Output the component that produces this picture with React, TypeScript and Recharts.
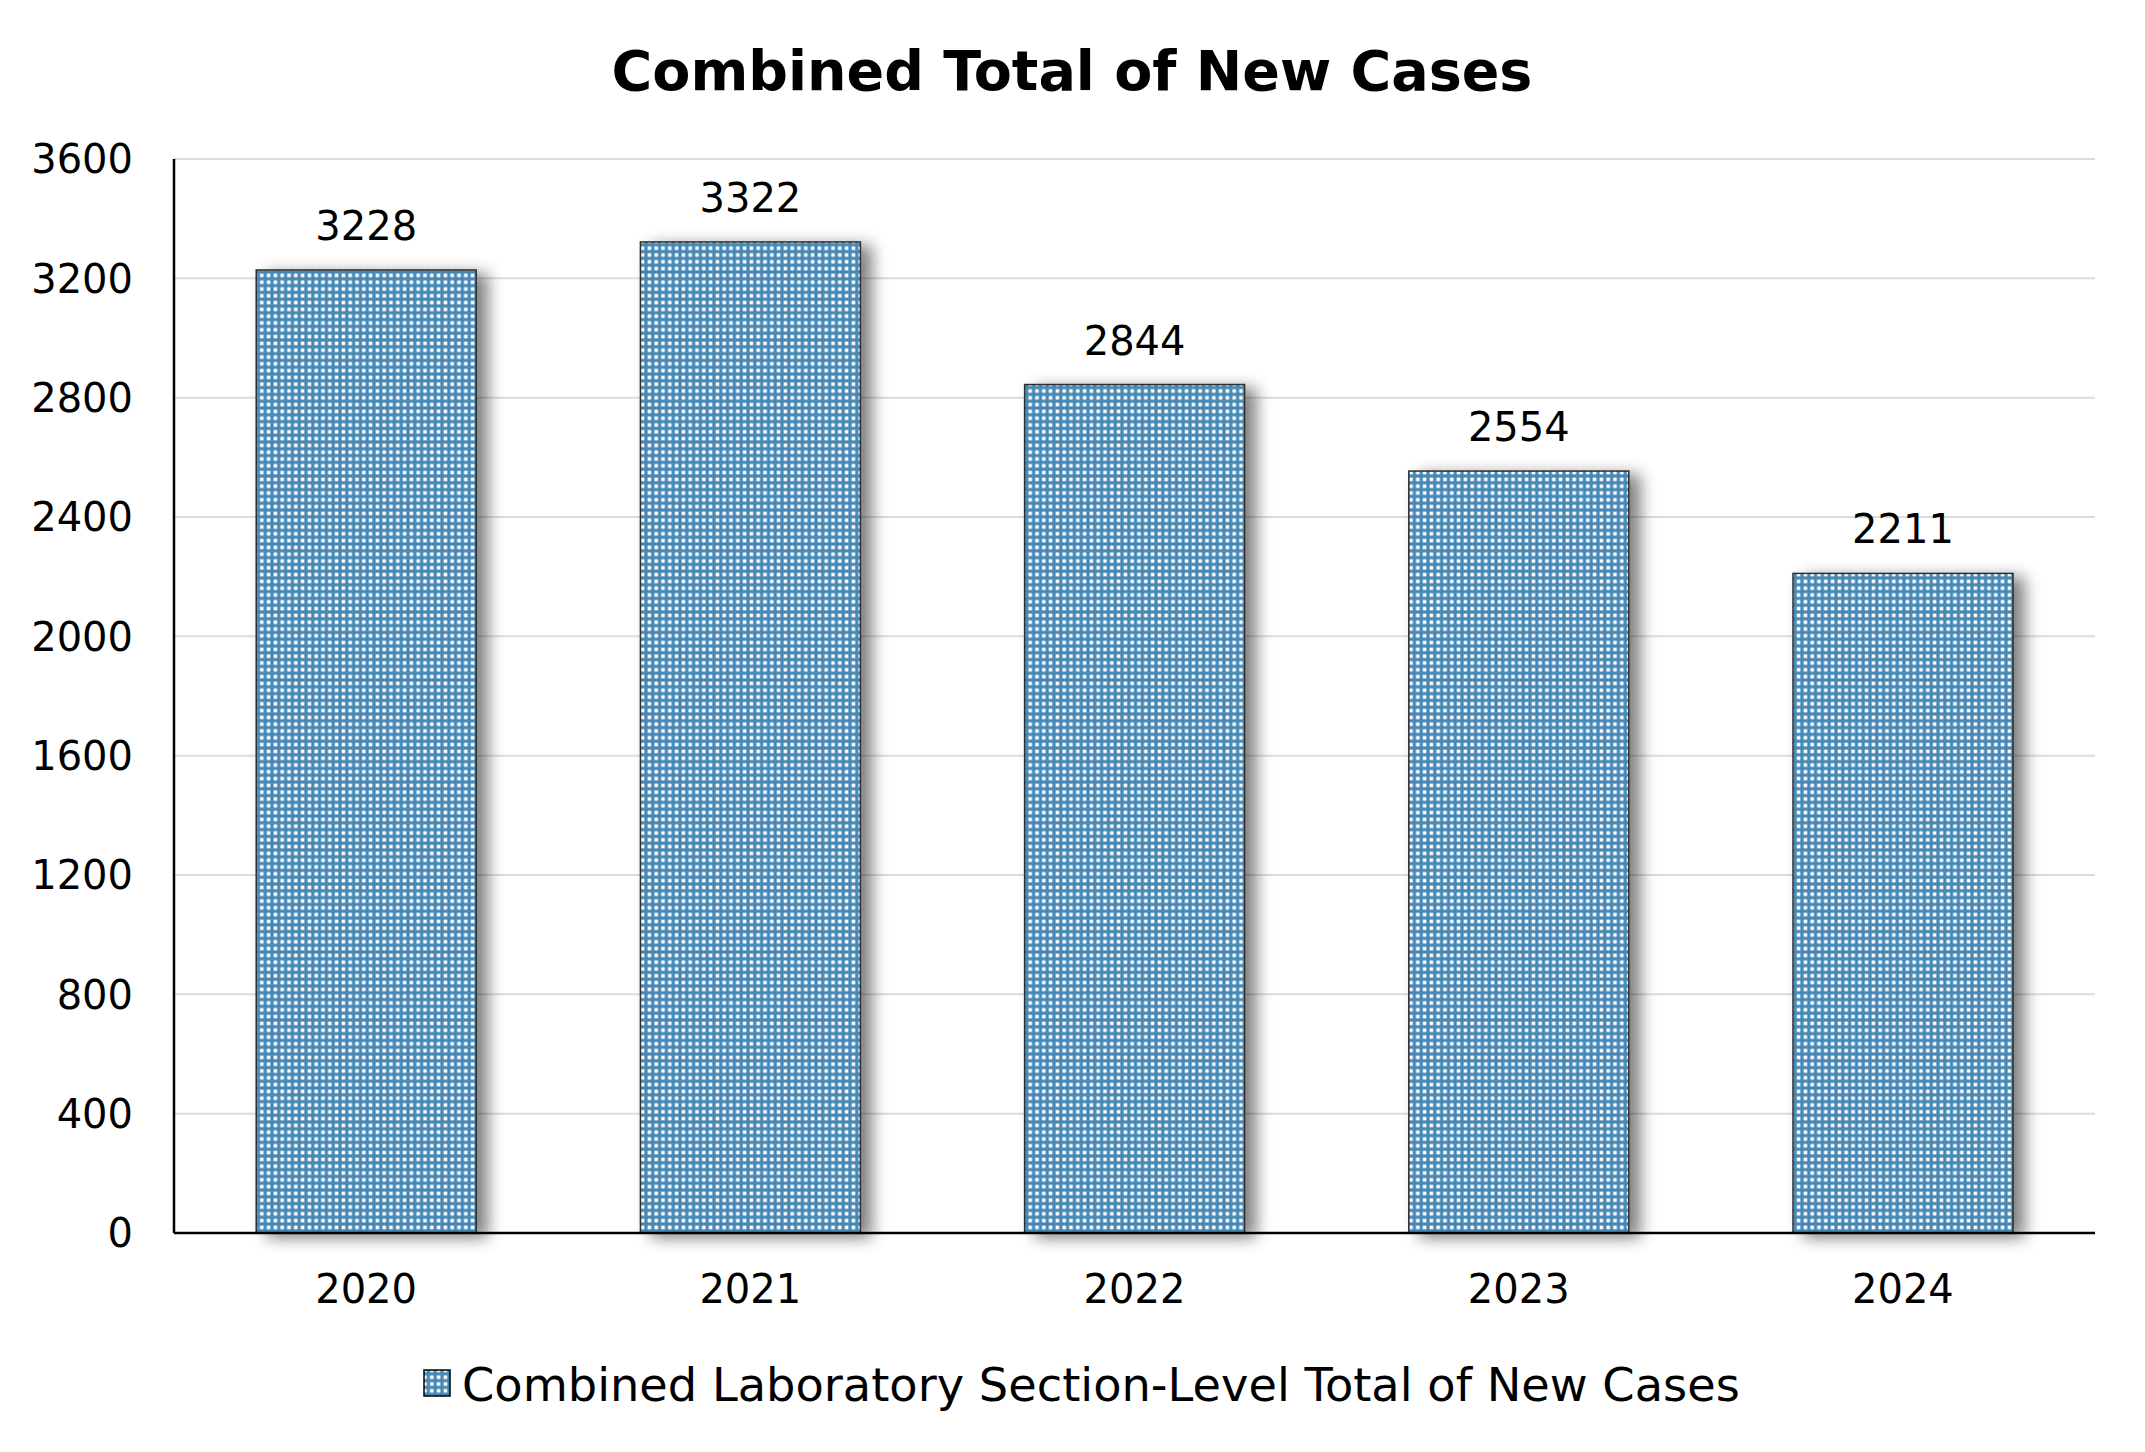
import React from 'react';
import { BarChart, Bar, XAxis, YAxis, CartesianGrid, Legend, LabelList } from 'recharts';

// chart values
const years = ['2020', '2021', '2022', '2023', '2024'];
const newCases = [3228, 3322, 2844, 2554, 2211];
const yTicks = [0, 400, 800, 1200, 1600, 2000, 2400, 2800, 3200, 3600];

const seriesName = 'Combined Laboratory Section-Level Total of New Cases';
const chartTitle = 'Combined Total of New Cases';

const FONT = '"DejaVu Sans", Verdana, sans-serif';
const BLUE = '#4588b6';

const data = years.map((year, i) => ({ year, value: newCases[i] }));

// bar with pattern fill and soft drop shadow
const ShadowBar = (props: any) => {
  const { x, y, width, height } = props;
  if (!height || height <= 0) return null;
  return (
    <rect
      x={x}
      y={y}
      width={width}
      height={height}
      fill="url(#dotPattern)"
      stroke="#2e2e2e"
      strokeWidth={1.5}
      filter="url(#barShadow)"
    />
  );
};

const LegendContent = () => (
  <svg width={2145} height={119} style={{ display: 'block' }}>
    <rect x={424} y={37} width={26} height={26} fill="url(#dotPattern)" stroke="#000" strokeWidth={1.5} />
    <text x={462} y={68} fontFamily={FONT} fontSize={46.3} fill="#000">
      {seriesName}
    </text>
  </svg>
);

export default function App() {
  return (
    <div style={{ position: 'absolute', left: 0, top: 0, width: 2145, height: 1452, background: '#fff', fontFamily: FONT }}>
      <svg width={0} height={0} style={{ position: 'absolute' }}>
        <defs>
          <pattern id="dotPattern" width={6.8} height={6.8} patternUnits="userSpaceOnUse">
            <rect x={0} y={0} width={6.8} height={6.8} fill={BLUE} />
            <rect x={1.6} y={1.6} width={3.6} height={3.6} fill="#ffffff" />
          </pattern>
          <filter id="barShadow" x="-20%" y="-10%" width="160%" height="130%">
            <feGaussianBlur in="SourceAlpha" stdDeviation={8} />
            <feOffset dx={11} dy={4} result="blur" />
            <feComponentTransfer>
              <feFuncA type="linear" slope={0.5} />
            </feComponentTransfer>
            <feMerge>
              <feMergeNode />
              <feMergeNode in="SourceGraphic" />
            </feMerge>
          </filter>
        </defs>
      </svg>

      <BarChart
        width={2145}
        height={1452}
        data={data}
        margin={{ top: 159, right: 50, left: 0, bottom: 0 }}
        barCategoryGap="21.4%"
      >
        <CartesianGrid vertical={false} stroke="#dcdcdc" strokeWidth={2} />
        <XAxis
          dataKey="year"
          height={100}
          axisLine={{ stroke: '#000', strokeWidth: 2.5 }}
          tickLine={false}
          tickSize={0}
          tickMargin={42}
          tick={{ fontSize: 40, fill: '#000', fontFamily: FONT }}
        />
        <YAxis
          width={174}
          domain={[0, 3600]}
          ticks={yTicks}
          interval={0}
          axisLine={{ stroke: '#000', strokeWidth: 2.5 }}
          tickLine={false}
          tickSize={0}
          tickMargin={41}
          tick={{ fontSize: 40, fill: '#000', fontFamily: FONT }}
        />
        <Legend verticalAlign="bottom" content={LegendContent} wrapperStyle={{ height: 119 }} />
        <Bar dataKey="value" name={seriesName} shape={ShadowBar} isAnimationActive={false}>
          <LabelList dataKey="value" position="top" offset={30} fontSize={40} fill="#000" fontFamily={FONT} />
        </Bar>
      </BarChart>

      <svg width={2145} height={130} style={{ position: 'absolute', left: 0, top: 0, pointerEvents: 'none' }}>
        <text x={1072} y={90} textAnchor="middle" fontFamily={FONT} fontWeight="bold" fontSize={55.5} fill="#000">
          {chartTitle}
        </text>
      </svg>
    </div>
  );
}
